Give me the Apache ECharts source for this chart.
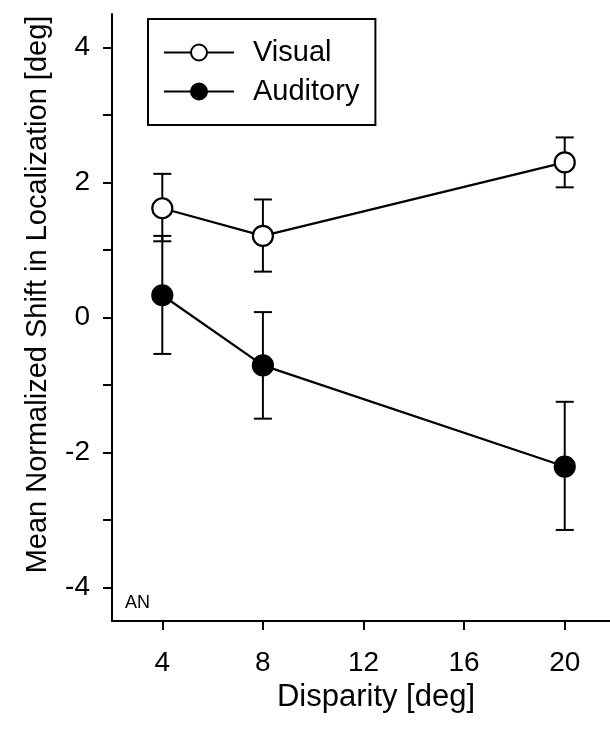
<!DOCTYPE html>
<html>
<head>
<meta charset="utf-8">
<script src="https://cdn.jsdelivr.net/npm/echarts@6/dist/echarts.min.js"></script>
<style>html,body{margin:0;padding:0;background:#fff;}#c{width:610px;height:733px;}</style>
</head>
<body>
<div id="c"></div>
<script>
var disparity = [4, 8, 20];
var visualMean = [1.62, 1.21, 2.30];
var visualLow = [1.13, 0.68, 1.93];
var visualHigh = [2.13, 1.75, 2.67];
var auditoryMean = [0.33, -0.71, -2.21];
var auditoryLow = [-0.54, -1.50, -3.15];
var auditoryHigh = [1.21, 0.08, -1.25];
var xTicks = [4, 8, 12, 16, 20];
var yLabels = [-4, -2, 0, 2, 4];
var yTicks = [-4, -3, -2, -1, 0, 1, 2, 3, 4];

var FONT = 'Liberation Sans';
function pairs(xs, ys) { return xs.map(function (x, i) { return [x, ys[i]]; }); }
function errData(xs, lo, hi) { return xs.map(function (x, i) { return [x, lo[i], hi[i]]; }); }
function errRender(params, api) {
  var x = api.value(0);
  var lo = api.coord([x, api.value(1)]);
  var hi = api.coord([x, api.value(2)]);
  var hw = 9;
  var st = { stroke: '#000', lineWidth: 2 };
  return { type: 'group', children: [
    { type: 'line', shape: { x1: lo[0], y1: lo[1], x2: hi[0], y2: hi[1] }, style: st },
    { type: 'line', shape: { x1: lo[0] - hw, y1: lo[1], x2: lo[0] + hw, y2: lo[1] }, style: st },
    { type: 'line', shape: { x1: hi[0] - hw, y1: hi[1], x2: hi[0] + hw, y2: hi[1] }, style: st }
  ] };
}

var chart = echarts.init(document.getElementById('c'));
chart.setOption({
  animation: false,
  backgroundColor: '#fff',
  textStyle: { fontFamily: FONT, color: '#000' },
  grid: { left: 112, right: 0, top: 14, bottom: 112, containLabel: false },
  xAxis: {
    type: 'value', min: 2, max: 21.8,
    name: 'Disparity [deg]', nameLocation: 'middle', nameGap: 57,
    nameTextStyle: { fontSize: 31, color: '#000', fontFamily: FONT, padding: [0, 0, 0, 30] },
    axisLine: { show: true, onZero: false, lineStyle: { color: '#000', width: 2 } },
    axisTick: { show: true, inside: false, length: 9, customValues: xTicks, lineStyle: { color: '#000', width: 2 } },
    axisLabel: { customValues: xTicks, fontSize: 28, color: '#000', margin: 28, fontFamily: FONT },
    splitLine: { show: false }
  },
  yAxis: {
    type: 'value', min: -4.5, max: 4.5,
    name: 'Mean Normalized Shift in Localization [deg]', nameLocation: 'middle', nameGap: 60, nameRotate: 90,
    nameTextStyle: { fontSize: 29, color: '#000', fontFamily: FONT, padding: [0, 0, 0, 46] },
    axisLine: { show: true, onZero: false, lineStyle: { color: '#000', width: 2 } },
    axisTick: { show: true, inside: false, length: 9, customValues: yTicks, lineStyle: { color: '#000', width: 2 } },
    axisLabel: { customValues: yLabels, fontSize: 28, color: '#000', margin: 22, fontFamily: FONT },
    splitLine: { show: false }
  },
  legend: {
    orient: 'vertical', left: 148, top: 19,
    padding: [19, 16, 19, 15],
    borderColor: '#000', borderWidth: 2,
    itemWidth: 70, itemHeight: 20, itemGap: 10,
    textStyle: { fontSize: 29, color: '#000', fontFamily: FONT, padding: [0, 0, 0, 14] },
    data: ['Visual', 'Auditory']
  },
  graphic: [
    { type: 'text', left: 125, top: 594, style: { text: 'AN', fontSize: 18, fill: '#000', fontFamily: FONT } }
  ],
  series: [
    { type: 'custom', name: 'visErr', renderItem: errRender, data: errData(disparity, visualLow, visualHigh), z: 1, silent: true },
    { type: 'custom', name: 'audErr', renderItem: errRender, data: errData(disparity, auditoryLow, auditoryHigh), z: 1, silent: true },
    {
      type: 'line', name: 'Visual', data: pairs(disparity, visualMean), z: 5,
      symbol: 'circle', symbolSize: 20,
      lineStyle: { color: '#000', width: 2.2 },
      itemStyle: { color: '#fff', borderColor: '#000', borderWidth: 2.2 }
    },
    {
      type: 'line', name: 'Auditory', data: pairs(disparity, auditoryMean), z: 5,
      symbol: 'circle', symbolSize: 20,
      lineStyle: { color: '#000', width: 2.2 },
      itemStyle: { color: '#000', borderColor: '#000', borderWidth: 2.2 }
    }
  ]
});
</script>
</body>
</html>
